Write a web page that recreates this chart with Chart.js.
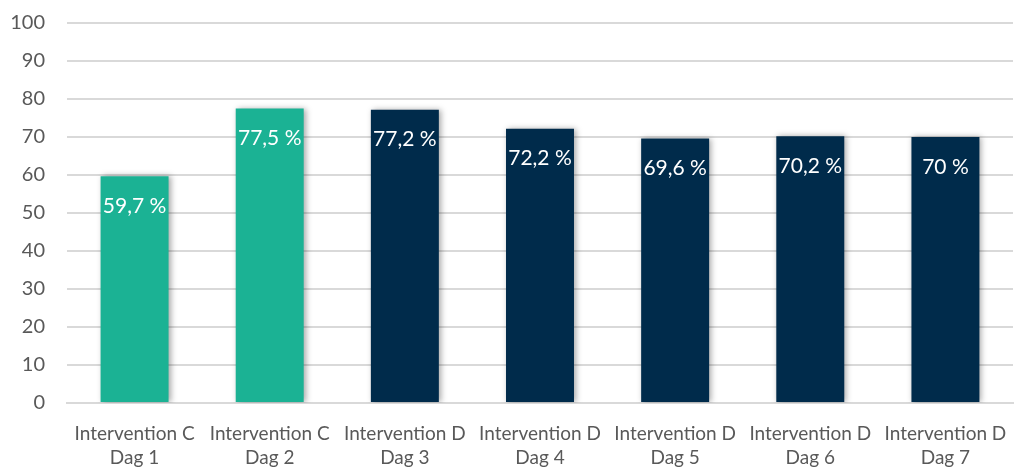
<!DOCTYPE html>
<html>
<head>
<meta charset="utf-8">
<script src="https://cdn.jsdelivr.net/npm/chart.js@4"></script>
<style>
  html, body { margin: 0; padding: 0; background: #fff; }
  #wrap { width: 1014px; height: 468px; }
</style>
</head>
<body>
<div id="wrap"><canvas id="c" width="1014" height="468"></canvas></div>
<script>
// Categories (two-line labels) and percentage values
const categories = [
  ["Intervention C", "Dag 1"],
  ["Intervention C", "Dag 2"],
  ["Intervention D", "Dag 3"],
  ["Intervention D", "Dag 4"],
  ["Intervention D", "Dag 5"],
  ["Intervention D", "Dag 6"],
  ["Intervention D", "Dag 7"]
];
const values = [59.7, 77.5, 77.2, 72.2, 69.6, 70.2, 70];
const groups = ["C", "C", "D", "D", "D", "D", "D"];
const groupColors = { C: "#1BB294", D: "#002B4B" };
const yTicks = [0, 10, 20, 30, 40, 50, 60, 70, 80, 90, 100];

const FONT = "Lato, 'Open Sans', sans-serif";

// Soft drop shadow behind bars
const barShadow = {
  id: "barShadow",
  beforeDatasetsDraw(chart) {
    const ctx = chart.ctx;
    ctx.save();
    ctx.shadowColor = "rgba(0,0,0,0.35)";
    ctx.shadowBlur = 6;
    ctx.shadowOffsetX = 2;
    ctx.shadowOffsetY = 0;
  },
  afterDatasetsDraw(chart) {
    chart.ctx.restore();
  }
};

// Value labels in white, just below each bar's top
const valueLabels = {
  id: "valueLabels",
  afterDatasetsDraw(chart) {
    const ctx = chart.ctx;
    const meta = chart.getDatasetMeta(0);
    ctx.save();
    ctx.fillStyle = "#ffffff";
    ctx.font = "21px " + FONT;
    ctx.textAlign = "center";
    ctx.textBaseline = "middle";
    meta.data.forEach((bar, i) => {
      const txt = String(values[i]).replace(".", ",") + " %";
      ctx.fillText(txt, bar.x, bar.y + 30);
    });
    ctx.restore();
  }
};

new Chart(document.getElementById("c"), {
  type: "bar",
  data: {
    labels: categories,
    datasets: [{
      data: values,
      backgroundColor: groups.map(g => groupColors[g]),
      borderWidth: 0,
      categoryPercentage: 1.0,
      barPercentage: 0.503
    }]
  },
  options: {
    responsive: false,
    animation: false,
    layout: { padding: { left: 0, right: 1, top: 23, bottom: 0 } },
    plugins: { legend: { display: false }, tooltip: { enabled: false } },
    scales: {
      x: {
        grid: { display: false, drawTicks: false },
        border: { display: true, color: "#D9D9D9", width: 2 },
        afterFit(axis) {
          axis.height = 65;
          axis.paddingLeft = 0;
          axis.paddingRight = 0;
        },
        ticks: {
          color: "#595959",
          font: { family: FONT, size: 19, lineHeight: 1.25 },
          padding: 19,
          maxRotation: 0,
          autoSkip: false
        }
      },
      y: {
        min: 0,
        max: 100,
        afterBuildTicks(axis) { axis.ticks = yTicks.map(v => ({ value: v })); },
        afterFit(axis) {
          axis.width = 67;
          axis.paddingTop = 0;
          axis.paddingBottom = 0;
        },
        grid: { color: "#D9D9D9", lineWidth: 2, drawTicks: false },
        border: { display: false },
        ticks: {
          color: "#595959",
          font: { family: FONT, size: 20 },
          padding: 22
        }
      }
    }
  },
  plugins: [barShadow, valueLabels]
});
</script>
</body>
</html>
